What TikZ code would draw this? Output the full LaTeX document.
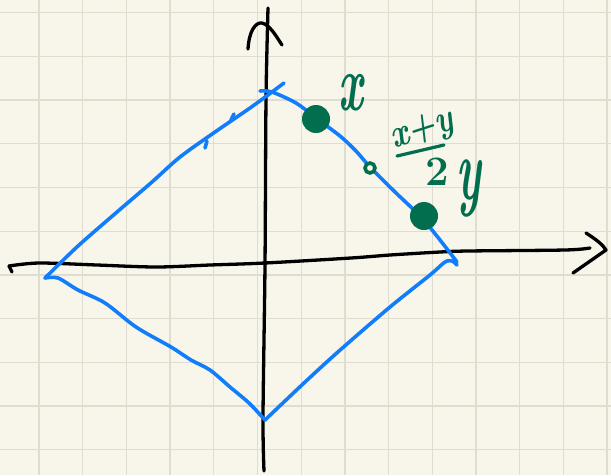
\documentclass[tikz,border=0pt]{standalone}
\definecolor{paper}{RGB}{248,246,234}
\definecolor{gridc}{RGB}{223,221,207}
\definecolor{penblue}{RGB}{18,125,250}
\definecolor{pengreen}{RGB}{3,110,78}
\tikzset{
  gridline/.style={gridc, line width=1.3pt},
  axis/.style={black, line width=3.3pt, line cap=round, line join=round},
  edge/.style={penblue, line width=3.6pt, line cap=round, line join=round},
  dot/.style={circle, fill=pengreen, inner sep=0pt, minimum size=28pt},
  ring/.style={circle, draw=pengreen, fill=paper, line width=3.6pt, inner sep=0pt, minimum size=10pt},
  lab/.style={text=pengreen, inner sep=0pt},
  penstroke/.style={pengreen, line width=3.2pt, line cap=round}
}
\begin{document}
\begin{tikzpicture}[x=1pt, y=-1pt]
\useasboundingbox (0,0) rectangle (611,475);
\fill[paper] (0,0) rectangle (611,475);
\foreach \i in {0,...,13} \draw[gridline] ({39+43.7*\i},0) -- ++(0,475);
\foreach \j in {0,...,10} \draw[gridline] (0,{12.7+43.7*\j}) -- ++(611,0);

% vertices
\coordinate (T) at (272,92);
\coordinate (L) at (45,278);
\coordinate (B) at (265,420);
\coordinate (R) at (457,262);

% y axis
\draw[axis] plot[smooth] coordinates {(268,8) (266,100) (265,265) (263,417) (264,471)};
\draw[axis] (248,49) .. controls (249,32) and (255,22) .. (262,23) .. controls (270,25) and (276,36) .. (282,45);
% x axis
\draw[axis] (12,272) -- (9,266);
\draw[axis] plot[smooth] coordinates {(9,266) (39,263) (97,265) (156,267) (210,265) (265,263) (351,258) (390,255) (440,252) (468,251) (565,250) (590,248)};
\draw[axis] (586,233) .. controls (597,240) and (603,245) .. (606,250) -- (573,273);

% diamond
\draw[edge] plot[smooth] coordinates {(L) (78,246) (117,212) (152,182) (180,157) (215,132) (250,108) (T) (284,83)};
\draw[edge] (207,141) -- (205,148);
\draw[edge] (231,120) -- (234,114);
\draw[edge] plot[smooth] coordinates {(260,91) (T) (296,103) (316,118) (340,136) (356,151) (370,167) (394,191) (421,217) (440,240) (R)};
\draw[edge] plot[smooth] coordinates {(457,265) (452,261) (445,262) (430,275) (390,307) (339,351) (304,383) (B)};
\draw[edge] plot[smooth] coordinates {(B) (249,403) (230,387) (210,370) (191,360) (171,347) (136,327) (105,303) (78,290) (58,278) (L)};

% points
\node[dot] (px) at (316,119) {};
\node[dot] (py) at (424,216) {};
\node[ring] (pm) at (370,168) {};

% labels
\node[lab, font=\fontsize{80}{80}\selectfont\bfseries\itshape, xscale=0.55] (lx) at (351,93) {x};
\node[lab, font=\fontsize{40}{40}\selectfont\bfseries\itshape, rotate=18, xscale=0.8] (lnum) at (423,131) {x+y};
\coordinate (barA) at (397,156);
\coordinate (barB) at (444,145);
\draw[penstroke] (barA) -- (barB);
\node[lab, font=\fontsize{42}{42}\selectfont\bfseries] (lden) at (437,172) {2};
\node[lab, font=\fontsize{88}{88}\selectfont\bfseries\itshape, xscale=0.5] (ly) at (469,188) {y};
\end{tikzpicture}
\end{document}
